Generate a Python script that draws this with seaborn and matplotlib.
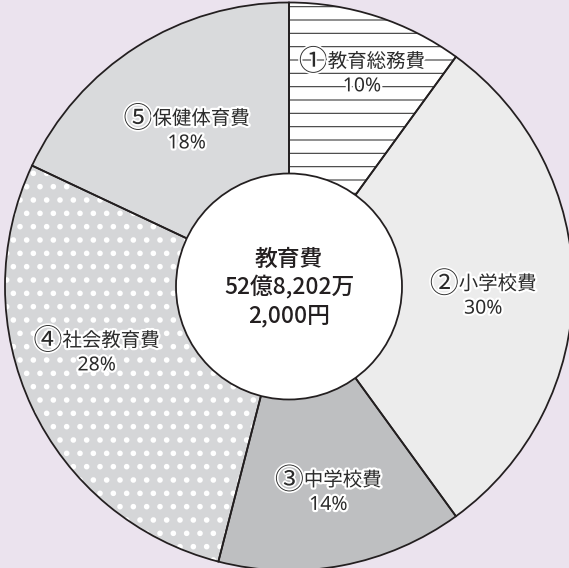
import matplotlib
matplotlib.use("Agg")
import matplotlib.pyplot as plt
import matplotlib.patheffects as pe
from matplotlib.patches import Circle
from matplotlib.offsetbox import TextArea, HPacker, AnnotationBbox
import numpy as np
import seaborn as sns

# ---- data ----
categories = ["教育総務費", "小学校費", "中学校費", "社会教育費", "保健体育費"]
markers = ["①", "②", "③", "④", "⑤"]
shares = [10, 30, 14, 28, 18]
total_lines = ["教育費", "52億8,202万", "2,000円"]

# ---- style ----
bg = "#ebe3ee"
ink = "#231f20"
fills = ["#ffffff", "#ececec", "#bebfc1", "#d5d6d8", "#d9dadc"]
hatches = ["-", None, None, ".", None]
hatch_colors = ["#3a3a3a", None, None, "#ffffff", None]
hatch_widths = [1.0, None, None, 2.6, None]
label_r = [0.79, 0.685, 0.74, 0.717, 0.654]     # fraction of radius
label_shift = [-1, -3, 0, -6, 1]                # degrees

sns.set_theme(style="white")
plt.rcParams["font.family"] = ["Noto Sans", "Noto Sans CJK JP", "DejaVu Sans"]

DPI = 80
fig = plt.figure(figsize=(569 / DPI, 568 / DPI), dpi=DPI, facecolor=bg)
ax = fig.add_axes([0, 0, 1, 1])
ax.set_facecolor(bg)

cx, cy, R, r_in = 289, 281.5, 284, 113

# filled + hatched wedges
wedges, _ = ax.pie(shares, radius=R, center=(cx, cy), startangle=90,
                   counterclock=False, colors=fills,
                   wedgeprops=dict(linewidth=0))
for w, h, hc, hw in zip(wedges, hatches, hatch_colors, hatch_widths):
    if h:
        w.set_hatch(h)
        w.set_edgecolor(hc)
        w.set_linewidth(0)
        if hasattr(w, "set_hatch_linewidth"):
            w.set_hatch_linewidth(hw)

# outlines on top
ax.pie(shares, radius=R, center=(cx, cy), startangle=90, counterclock=False,
       wedgeprops=dict(fill=False, edgecolor=ink, linewidth=1.6))

# white centre
ax.add_patch(Circle((cx, cy), r_in, facecolor="white", edgecolor=ink,
                    linewidth=1.6, zorder=5))

halo = [pe.withStroke(linewidth=4, foreground="white")]
txt = dict(fontsize=17.5, color="#2b2b2b", path_effects=halo)
mk_txt = dict(fontsize=26, color="#2b2b2b",
              path_effects=[pe.withStroke(linewidth=3, foreground="white")],
              family=["Noto Sans CJK JP", "DejaVu Sans"])

for w, cat, mk, share, lr, sh in zip(wedges, categories, markers, shares,
                                      label_r, label_shift):
    mid = np.deg2rad((w.theta1 + w.theta2) / 2 + sh)
    x = cx + lr * R * np.cos(mid)
    y = cy + lr * R * np.sin(mid)
    row = HPacker(children=[TextArea(mk, textprops=mk_txt),
                            TextArea(cat, textprops=txt)],
                  sep=0, pad=0, align="center")
    ab = AnnotationBbox(row, (x, y + 12), xycoords="data", frameon=False,
                        box_alignment=(0.5, 0.5), pad=0, zorder=6)
    ax.add_artist(ab)
    ax.text(x, y - 12, f"{share}%", ha="center", va="center", zorder=6, **txt)

for i, line in enumerate(total_lines):
    ax.text(cx, cy - 1 + 28 * (1 - i), line, ha="center", va="center",
            fontsize=20.5, fontweight="medium", color=ink, zorder=7,
            family=["Noto Sans CJK JP", "DejaVu Sans"])

ax.set_xlim(0, 569)
ax.set_ylim(0, 568)
ax.set_aspect("auto")
ax.axis("off")

fig.savefig("out.png", dpi=DPI, facecolor=bg)
